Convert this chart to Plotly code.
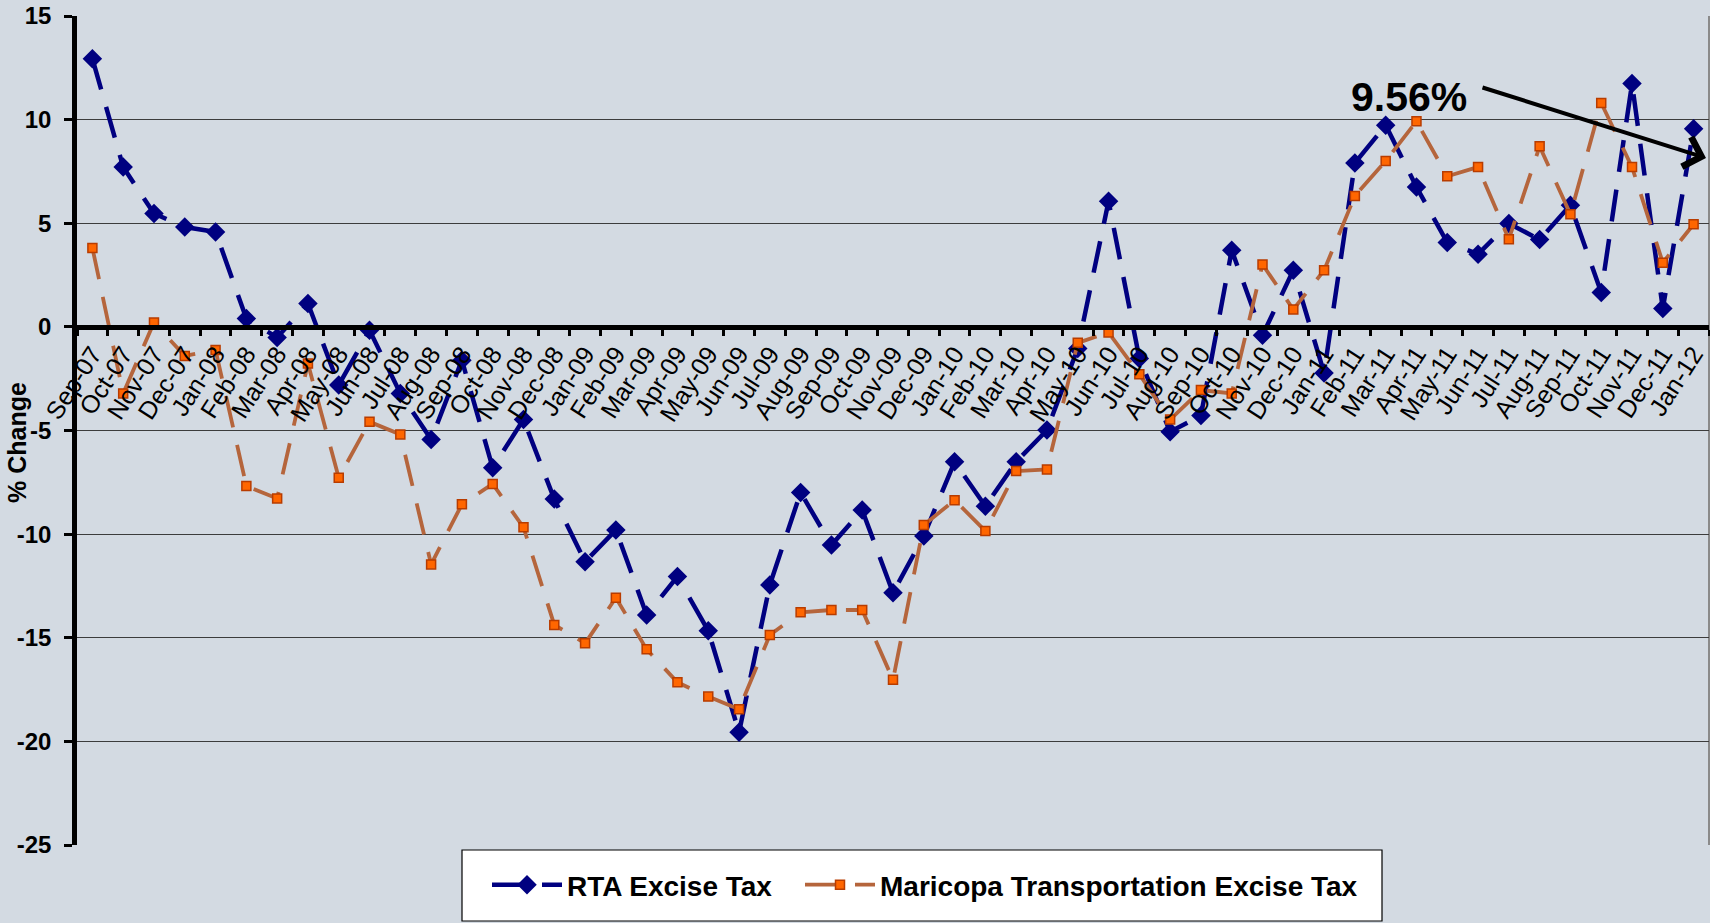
import plotly.graph_objects as go

months = ["Sep-07", "Oct-07", "Nov-07", "Dec-07",
          "Jan-08", "Feb-08", "Mar-08", "Apr-08", "May-08", "Jun-08", "Jul-08", "Aug-08", "Sep-08", "Oct-08", "Nov-08", "Dec-08",
          "Jan-09", "Feb-09", "Mar-09", "Apr-09", "May-09", "Jun-09", "Jul-09", "Aug-09", "Sep-09", "Oct-09", "Nov-09", "Dec-09",
          "Jan-10", "Feb-10", "Mar-10", "Apr-10", "May-10", "Jun-10", "Jul-10", "Aug-10", "Sep-10", "Oct-10", "Nov-10", "Dec-10",
          "Jan-11", "Feb-11", "Mar-11", "Apr-11", "May-11", "Jun-11", "Jul-11", "Aug-11", "Sep-11", "Oct-11", "Nov-11", "Dec-11",
          "Jan-12"]

rta_excise = [12.94, 7.71, 5.47, 4.82,
              4.58, 0.40, -0.51, 1.13, -2.81, -0.16, -3.21, -5.43, -1.61, -6.80, -4.47, -8.31,
              -11.33, -9.80, -13.90, -12.05, -14.66, -19.56, -12.45, -7.99, -10.53, -8.84, -12.83, -10.09,
              -6.51, -8.65, -6.51, -4.98, -1.04, 6.06, -1.52, -5.06, -4.28, 3.70, -0.40, 2.73,
              -2.22, 7.91, 9.73, 6.75, 4.07, 3.51, 4.99, 4.21, 5.87, 1.66, 11.74, 0.89,
              9.56]

maricopa_excise = [3.81, -3.21, 0.21, -1.40,
                   -1.12, -7.68, -8.28, -1.77, -7.28, -4.58, -5.19, -11.46, -8.56, -7.58, -9.67, -14.38,
                   -15.27, -13.07, -15.56, -17.15, -17.84, -18.45, -14.87, -13.77, -13.66, -13.66, -17.03, -9.56,
                   -8.36, -9.85, -6.96, -6.88, -0.77, -0.27, -2.28, -4.47, -3.05, -3.21, 3.01, 0.84,
                   2.73, 6.32, 8.00, 9.92, 7.27, 7.71, 4.23, 8.71, 5.43, 10.80, 7.71, 3.10,
                   4.95]

y_ticks = [-25, -20, -15, -10, -5, 0, 5, 10, 15]
y_tick_labels = ["-25", "-20", "-15", "-10", "-5", "0", "5", "10", "15"]
callout_text = "9.56%"

FONT = "Liberation Sans, Arial, sans-serif"
BG = "#D3DAE2"

W, H = 1710, 923
ML, MR, MT, MB = 77, 1, 16, 78
PW, PH = W - ML - MR, H - MT - MB


def px_x(px):
    return (px - ML) / PW


def px_y(py):
    return (H - MB - py) / PH


fig = go.Figure()

fig.add_trace(go.Scatter(
    x=months, y=rta_excise, name="RTA Excise Tax", mode="lines+markers",
    line=dict(color="#000080", width=4.5, dash="32px,18px"),
    marker=dict(symbol="diamond", size=15, color="#000080", line=dict(color="#000080", width=0)),
    legend="legend",
))
fig.add_trace(go.Scatter(
    x=months, y=maricopa_excise, name="Maricopa Transportation Excise Tax", mode="lines+markers",
    line=dict(color="#B5653C", width=3.8, dash="32px,18px"),
    marker=dict(symbol="square", size=9, color="#FF6600", line=dict(color="#B83C00", width=1.5)),
    legend="legend2",
))

# legend box
fig.add_shape(type="rect", xref="paper", yref="paper",
              x0=px_x(462), x1=px_x(1382), y0=px_y(921), y1=px_y(850),
              fillcolor="white", line=dict(color="black", width=1.2), layer="below")
# right frame line of plot area
fig.add_shape(type="line", xref="paper", yref="paper",
              x0=1, x1=1, y0=0, y1=1, line=dict(color="#8a8a8a", width=2), layer="below")

fig.add_annotation(text=callout_text, xref="paper", yref="paper",
                   x=px_x(1409), y=px_y(97), xanchor="center", yanchor="middle", showarrow=False,
                   font=dict(family=FONT, size=41, color="black", weight="bold"))
fig.add_annotation(text="", xref="paper", yref="paper",
                   x=px_x(1706), y=px_y(158), ax=1481 - 1706, ay=87 - 158,
                   showarrow=True, arrowhead=4, arrowsize=1.5, arrowwidth=4, arrowcolor="black", standoff=0)
fig.add_annotation(text="% Change", xref="paper", yref="paper",
                   x=px_x(17), y=px_y(443), xanchor="center", yanchor="middle",
                   showarrow=False, textangle=-90,
                   font=dict(family=FONT, size=25, color="black", weight="bold"))

legend_common = dict(orientation="h", xanchor="left", yanchor="middle",
                     bgcolor="rgba(0,0,0,0)", borderwidth=0, itemwidth=70,
                     font=dict(family=FONT, size=28, color="black", weight="bold"))

fig.update_layout(
    width=W, height=H,
    margin=dict(l=ML, r=MR, t=MT, b=MB, pad=0),
    paper_bgcolor=BG, plot_bgcolor=BG,
    font=dict(family=FONT, color="black"),
    showlegend=True,
    legend=dict(x=px_x(487), y=px_y(885), **legend_common),
    legend2=dict(x=px_x(800), y=px_y(885), **legend_common),
    xaxis=dict(
        type="category", range=[-0.5, 52.5],
        tickmode="linear", tick0=0, dtick=1,
        anchor="free", position=25 / 40,
        showline=True, linecolor="black", linewidth=4.5,
        ticks="outside", tickson="boundaries", ticklen=6, tickwidth=3, tickcolor="black",
        tickangle=-57, tickfont=dict(family=FONT, size=25, color="black"),
        showgrid=False, zeroline=False,
    ),
    yaxis=dict(
        range=[-25, 15], tickmode="array", tickvals=y_ticks, ticktext=y_tick_labels,
        showline=True, linecolor="black", linewidth=4.5,
        ticks="outside", ticklen=8, tickwidth=3, tickcolor="black",
        tickfont=dict(family=FONT, size=24, color="black", weight="bold"),
        ticklabelstandoff=8,
        showgrid=True, gridcolor="#3c3c3c", gridwidth=1.2,
        zeroline=False,
    ),
)

fig.write_html(
    "out.html",
    config={"displayModeBar": False},
    post_script="document.body.style.margin='0';document.body.style.backgroundColor='#D3DAE2';"
                "document.body.style.overflow='hidden';",
)
